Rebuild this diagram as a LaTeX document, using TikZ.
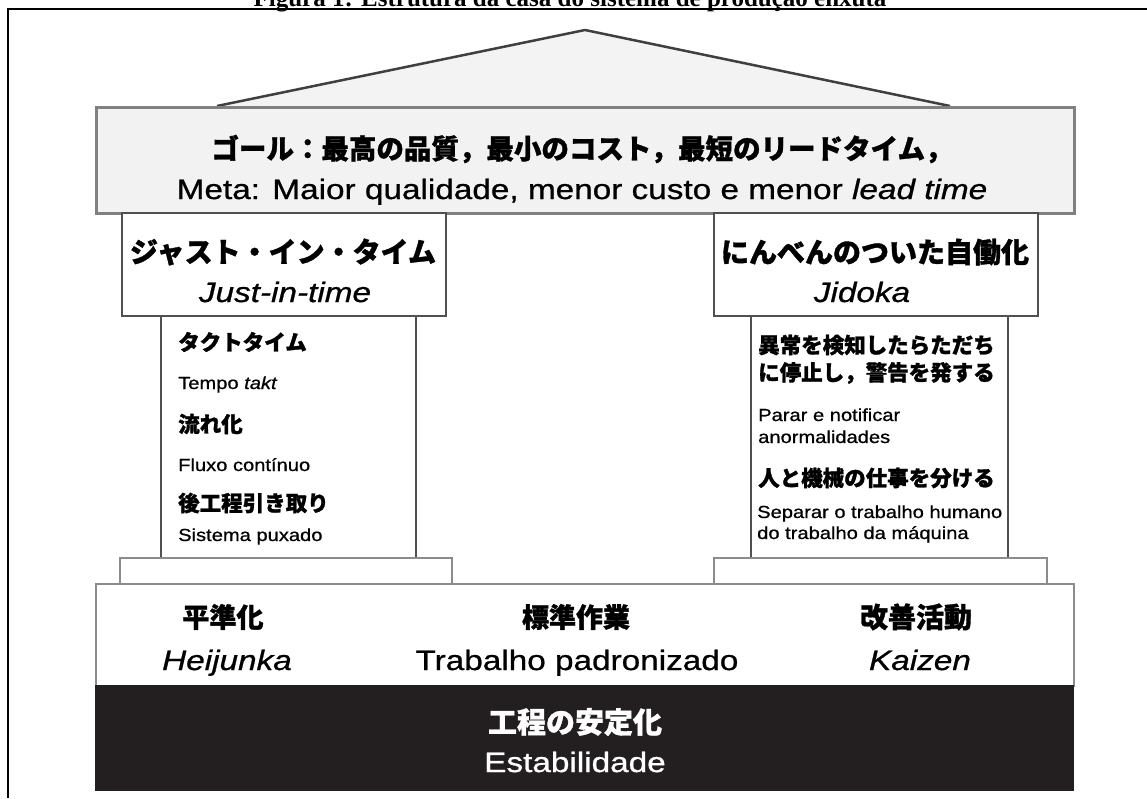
\documentclass[tikz,border=0pt]{standalone}
\usepackage{fontspec}
\setmainfont{Liberation Sans}
\newfontfamily\latL{Liberation Sans}[FakeStretch=1.19, FakeBold=0.8]
\newfontfamily\latS{Liberation Sans}[FakeStretch=1.15, FakeBold=0.8]
\newfontfamily\jpf{Noto Sans CJK JP}[BoldFeatures={FakeBold=1.2}]
\newfontfamily\capf{Liberation Serif}
\definecolor{rooffill}{HTML}{F3F3F3}
\definecolor{beamfill}{HTML}{F2F2F2}
\definecolor{roofgray}{HTML}{3F3F3F}
\definecolor{beamgray}{HTML}{808080}
\definecolor{partgray}{HTML}{505050}
\definecolor{lightgray}{HTML}{8C8C8C}
\definecolor{basefill}{HTML}{231F20}
\begin{document}
\begin{tikzpicture}[x=1pt,y=-1pt,
  boxpart/.style={draw=partgray, line width=2pt, fill=white, inner sep=0pt, anchor=north west},
  plinth/.style={draw=lightgray, line width=2pt, fill=white, inner sep=0pt, anchor=north west},
  jpL/.style={inner sep=0pt, anchor=center, font=\jpf\bfseries\fontsize{27.5}{30}\selectfont},
  jpM/.style={inner sep=0pt, anchor=center, font=\jpf\bfseries\fontsize{27}{30}\selectfont},
  jpS/.style={inner sep=0pt, anchor=west, font=\jpf\bfseries\fontsize{21.5}{24}\selectfont},
  latBig/.style={inner sep=0pt, anchor=base, font=\latL\fontsize{28}{32}\selectfont},
  latSmall/.style={inner sep=0pt, anchor=base west, font=\latS\fontsize{17.5}{20}\selectfont}
]
\useasboundingbox (0,0) rectangle (1147,798);
\clip (0,0) rectangle (1147,798);

% caption (cut off at the top)
\node[inner sep=0pt, anchor=base, font=\capf\bfseries\fontsize{25}{28}\selectfont] (caption) at (570,6)
  {Figura 1: Estrutura da casa do sistema de produção enxuta};

% frame
\coordinate (frtl) at (8,9);
\coordinate (frtr) at (1147,9);
\coordinate (frbl) at (8,798);
\draw[black, line width=2.5pt] (frtr) -- (frtl) -- (frbl);

% roof
\coordinate (roofl) at (217,106);
\coordinate (roofa) at (585,30);
\coordinate (roofr) at (950,106);
\filldraw[fill=rooffill, draw=roofgray, line width=2.5pt, line join=round] (roofl) -- (roofa) -- (roofr);

% columns
\node[boxpart, minimum width=255pt, minimum height=242pt] (jitcol) at (160,315) {};
\node[boxpart, minimum width=257pt, minimum height=242pt] (jidcol) at (750,315) {};

% beam
\node[draw=beamgray, line width=3pt, fill=beamfill, inner sep=0pt, anchor=north west,
      minimum width=978pt, minimum height=106pt] (beam) at (95,106) {};

% capitals
\node[boxpart, minimum width=324pt, minimum height=103pt] (jitbox) at (121,212) {};
\node[boxpart, minimum width=324pt, minimum height=103pt] (jidbox) at (713,212) {};

% plinths
\node[plinth, minimum width=332pt, minimum height=26pt] (jitpl) at (119,557) {};
\node[plinth, minimum width=333pt, minimum height=26pt] (jidpl) at (713,557) {};

% foundation
\node[draw=lightgray, line width=2pt, fill=white, inner sep=0pt, anchor=north west,
      minimum width=978pt, minimum height=102pt] (found) at (95,583) {};
\node[draw=basefill, line width=1pt, fill=basefill, inner sep=0pt, anchor=north west,
      minimum width=978pt, minimum height=105pt] (stab) at (95,685) {};

% beam texts
\node[jpL] (goaljp) at (582,149) {ゴール：最高の品質，最小のコスト，最短のリードタイム，};
\node[latBig] (goalpt) at (582,199) {Meta: Maior qualidade, menor custo e menor \textit{lead time}};

% capital texts
\node[jpL, font=\jpf\bfseries\fontsize{28}{30}\selectfont] (jitjp) at (283,252) {ジャスト・イン・タイム};
\node[latBig] (jitpt) at (285,302) {\itshape Just-in-time};
\node[jpL, font=\jpf\bfseries\fontsize{28}{30}\selectfont] (jidjp) at (875,252) {にんべんのついた自働化};
\node[latBig] (jidpt) at (862,302) {\itshape Jidoka};

% JIT column texts
\node[jpS] (taktjp) at (178,342) {タクトタイム};
\node[latSmall] (taktpt) at (178,389) {Tempo \textit{takt}};
\node[jpS] (flowjp) at (178,424) {流れ化};
\node[latSmall] (flowpt) at (178,471) {Fluxo contínuo};
\node[jpS] (pulljp) at (178,503) {後工程引き取り};
\node[latSmall] (pullpt) at (178,541) {Sistema puxado};

% Jidoka column texts
\node[jpS] (stopjpa) at (758,345) {異常を検知したらただち};
\node[jpS] (stopjpb) at (758,373) {に停止し，警告を発する};
\node[latSmall] (stopa) at (758,421) {Parar e notificar};
\node[latSmall] (stopb) at (758,443) {anormalidades};
\node[jpS] (sepjp) at (758,478) {人と機械の仕事を分ける};
\node[latSmall] (sepa) at (757,518) {Separar o trabalho humano};
\node[latSmall] (sepb) at (757,539) {do trabalho da máquina};

% foundation texts
\node[jpM] (heijp) at (223,617) {平準化};
\node[latBig] (heipt) at (227,670) {\itshape Heijunka};
\node[jpM] (stdjp) at (576,617) {標準作業};
\node[latBig] (stdpt) at (577,670) {Trabalho padronizado};
\node[jpM, font=\jpf\bfseries\fontsize{28}{30}\selectfont] (kaijp) at (916,617) {改善活動};
\node[latBig] (kaipt) at (920,670) {\itshape Kaizen};

% stability texts
\node[jpM, text=white, font=\jpf\bfseries\fontsize{29}{30}\selectfont] (stabjp) at (575,722) {工程の安定化};
\node[latBig, text=white] (stabpt) at (575,772) {Estabilidade};
\end{tikzpicture}
\end{document}
